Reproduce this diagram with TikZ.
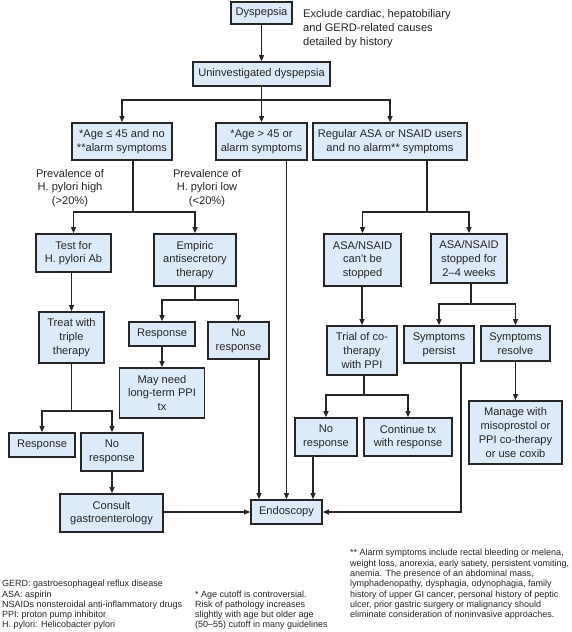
\documentclass[tikz,border=0pt]{standalone}
\usepackage{fontspec}
\setmainfont{Liberation Sans}
\usetikzlibrary{arrows.meta}
\definecolor{boxfill}{HTML}{DDEAF8}
\definecolor{ink}{HTML}{262626}
\begin{document}
\begin{tikzpicture}[x=1pt,y=-1pt,
  box/.style={draw=ink, line width=1.7pt, fill=boxfill, inner sep=0pt, align=center, font=\fontsize{11.1}{13.7}\selectfont, text=ink},
  conn/.style={draw=ink, line width=1.1pt},
  arr/.style={conn, -{Triangle[length=6pt,width=5pt]}},
  lbl/.style={inner sep=0pt, align=center, font=\fontsize{11.1}{13.8}\selectfont, text=ink},
  note/.style={inner sep=0pt, align=left, anchor=north west, font=\fontsize{9}{10.3}\selectfont, text=ink}]
\useasboundingbox (0,0) rectangle (572,632);
\fill[white] (0,0) rectangle (572,632);

% boxes
\node[box, minimum width=61pt,  minimum height=22pt] (dys)     at (261.5,13)  {Dyspepsia};
\node[box, minimum width=137pt, minimum height=24pt] (uninv)   at (261.5,74)  {Uninvestigated dyspepsia};
\node[box, minimum width=100pt, minimum height=37pt] (a1)      at (122,141.5) {*Age ≤ 45 and no\\**alarm symptoms};
\node[box, minimum width=91pt,  minimum height=37pt] (a2)      at (261.5,141.5) {*Age > 45 or\\alarm symptoms};
\node[box, minimum width=154pt, minimum height=37pt] (a3)      at (390,141.5) {Regular ASA or NSAID users\\and no alarm** symptoms};
\node[box, minimum width=75pt,  minimum height=38pt] (test)    at (73.5,253)  {Test for\\H. pylori Ab};
\node[box, minimum width=82pt,  minimum height=52pt] (emp)     at (195,260)   {Empiric\\antisecretory\\therapy};
\node[box, minimum width=65pt,  minimum height=51pt] (treat)   at (71.5,337.5) {Treat with\\triple\\therapy};
\node[box, minimum width=66pt,  minimum height=24pt] (resp1)   at (162,334)   {Response};
\node[box, minimum width=61pt,  minimum height=37pt] (nores1)  at (238.5,340.5) {No\\response};
\node[box, minimum width=85pt,  minimum height=50pt] (may)     at (162,393)   {May need\\long-term PPI\\tx};
\node[box, minimum width=66pt,  minimum height=24pt] (resp2)   at (42,445)    {Response};
\node[box, minimum width=62pt,  minimum height=38pt] (nores2)  at (112,452)   {No\\response};
\node[box, minimum width=103pt, minimum height=38pt] (consult) at (111.5,513) {Consult\\gastroenterology};
\node[box, minimum width=71pt,  minimum height=24pt] (endo)    at (286.5,512) {Endoscopy};
\node[box, minimum width=77pt,  minimum height=52pt] (cant)    at (362.5,260) {ASA/NSAID\\can't be\\stopped};
\node[box, minimum width=76pt,  minimum height=49pt] (stop)    at (469,258.5) {ASA/NSAID\\stopped for\\2–4 weeks};
\node[box, minimum width=70pt,  minimum height=49pt] (trial)   at (362,350.5) {Trial of co-\\therapy\\with PPI};
\node[box, minimum width=70pt,  minimum height=37pt] (persist) at (439,344.5) {Symptoms\\persist};
\node[box, minimum width=69pt,  minimum height=35pt] (resolve) at (515.5,343.5) {Symptoms\\resolve};
\node[box, minimum width=62pt,  minimum height=38pt] (nores3)  at (326,437)   {No\\response};
\node[box, minimum width=88pt,  minimum height=38pt] (cont)    at (408,437)   {Continue tx\\with response};
\node[box, minimum width=93pt,  minimum height=63pt] (manage)  at (515.5,432.5) {Manage with\\misoprostol or\\PPI co-therapy\\or use coxib};

% labels
\node[lbl, anchor=north west, align=left] (excl) at (303,9.5) {Exclude cardiac, hepatobiliary\\and GERD-related causes\\detailed by history};
\node[lbl] (phigh) at (70,188) {Prevalence of\\H. pylori high\\(>20\%)};
\node[lbl] (plow)  at (207,188) {Prevalence of\\H. pylori low\\(<20\%)};

% junctions
\coordinate (j0) at (261.5,100);
\coordinate (j1) at (133,212);
\coordinate (j2) at (195,300);
\coordinate (j3) at (71.5,411);
\coordinate (j4) at (427,212);
\coordinate (j5) at (471,304);
\coordinate (j6) at (364,395);
\coordinate (x259) at (259,0);
\coordinate (x313) at (313,0);
\coordinate (x461) at (461,0);

% connectors
\draw[arr] (dys) -- (uninv);
\draw[conn] (uninv) -- (j0);
\draw[arr] (j0) -| (a1);
\draw[arr] (j0) -- (a2);
\draw[arr] (j0) -| (a3);

\draw[conn] (a1.south -| j1) -- (j1);
\draw[arr] (j1) -| (test);
\draw[arr] (j1) -| (emp);

\draw[conn] (emp) -- (j2);
\draw[arr] (j2) -| (resp1);
\draw[arr] (j2) -| (nores1);
\draw[arr] (resp1) -- (may);

\draw[arr] (test.south -| treat) -- (treat);
\draw[conn] (treat) -- (j3);
\draw[arr] (j3) -| (resp2);
\draw[arr] (j3) -| (nores2);
\draw[arr] (nores2) -- (consult.north -| nores2);
\draw[arr] (consult.east |- endo) -- (endo);

\draw[arr] (nores1.south -| x259) -- (endo.north -| x259);
\draw[arr] (a2.south -| endo) -- (endo);
\draw[arr] (nores3.south -| x313) -- (endo.north -| x313);
\draw[arr] (persist.south -| x461) |- (endo);

\draw[conn] (a3.south -| j4) -- (j4);
\draw[arr] (j4) -| (cant);
\draw[arr] (j4) -| (stop);
\draw[arr] (cant.south -| trial) -- (trial);

\draw[conn] (stop.south -| j5) -- (j5);
\draw[arr] (j5) -| (persist);
\draw[arr] (j5) -| (resolve);
\draw[arr] (resolve) -- (manage);

\draw[conn] (trial.south -| j6) -- (j6);
\draw[arr] (j6) -| (nores3);
\draw[arr] (j6) -| (cont);

% footnotes
\node[note] (fn1) at (2,580) {GERD: gastroesophageal reflux disease\\ASA: aspirin\\NSAIDs nonsteroidal anti-inflammatory drugs\\PPI: proton pump inhibitor\\H. pylori: Helicobacter pylori};
\node[note] (fn2) at (195,590.3) {* Age cutoff is controversial.\\Risk of pathology increases\\slightly with age but older age\\(50–55) cutoff in many guidelines};
\node[note] (fn3) at (350,549.1) {** Alarm symptoms include rectal bleeding or melena,\\weight loss, anorexia, early satiety, persistent vomiting,\\anemia. The presence of an abdominal mass,\\lymphadenopathy, dysphagia, odynophagia, family\\history of upper GI cancer, personal history of peptic\\ulcer, prior gastric surgery or malignancy should\\eliminate consideration of noninvasive approaches.};
\end{tikzpicture}
\end{document}
